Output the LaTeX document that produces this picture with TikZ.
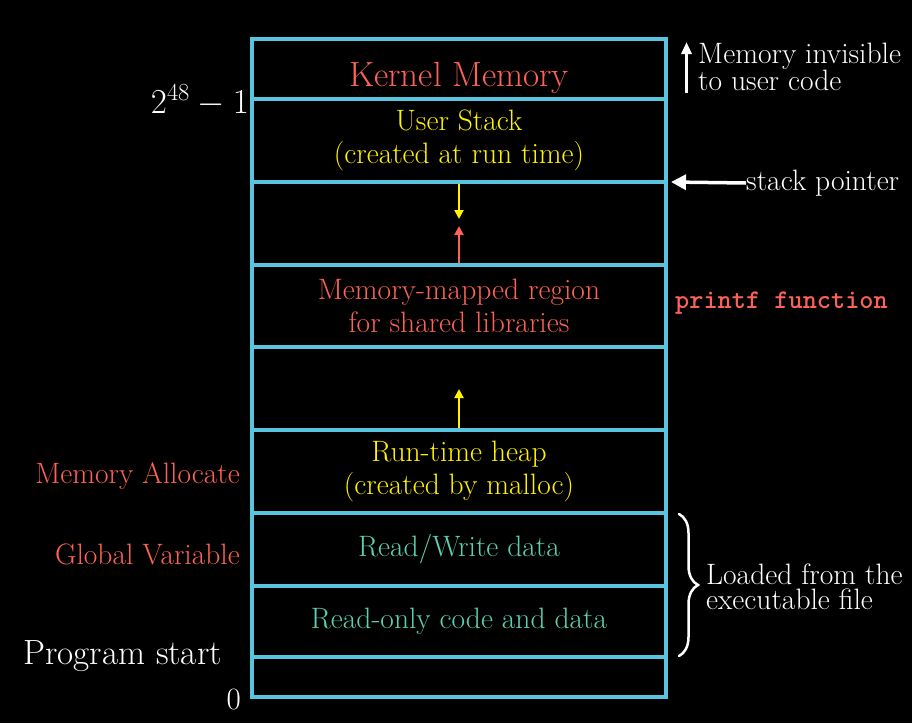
\RequirePackage{fix-cm}
\documentclass[tikz,border=0pt]{standalone}
\usetikzlibrary{arrows.meta,decorations.pathreplacing}
\definecolor{memblue}{HTML}{58C4DD}
\definecolor{memred}{HTML}{FC6255}
\definecolor{memyellow}{HTML}{FFF200}
\definecolor{memteal}{HTML}{5CD0B3}
\begin{document}
\begin{tikzpicture}[x=1pt,y=-1pt]
		\newcommand{\centx}{459}
		\newcommand{\boxw}{414pt} % width of the memory column
		\newcommand{\lw}{4pt} % line width of the column

		% set the styles of the regions and labels
		\tikzset{
			region/.style={
				draw=memblue,
				line width=\lw,
				minimum width=\boxw,
				inner sep=0pt,
				align=center,
				font=\fontsize{29.5}{33}\selectfont
				},
			sidetext/.style={
				text=white,
				align=left,
				inner sep=0pt,
				anchor=west
				},
			lefttext/.style={
				inner sep=0pt,
				anchor=east,
				font=\fontsize{29.5}{33}\selectfont
				},
			growth/.style={
				line width=2pt,
				-{Triangle[length=9pt,width=9pt]}
				}
		}

		% background
		\fill[black] (0,0) rectangle (912,723);
		\useasboundingbox (0,0) rectangle (912,723);

		% regions
		\node[region, minimum height=60pt] (kernel) at (\centx,69) {};
		\node[region, minimum height=83pt, text=memyellow] (stack) at (\centx,140.5) {User Stack\\(created at run time)};
		\node[region, minimum height=83pt] (gapA) at (\centx,223.5) {};
		\node[region, minimum height=82pt, text=memred] (mmap) at (\centx,306) {Memory-mapped region\\for shared libraries};
		\node[region, minimum height=83pt] (gapB) at (\centx,388.5) {};
		\node[region, minimum height=83pt, text=memyellow] (heap) at (\centx,471.5) {Run-time heap\\(created by malloc)};
		\node[region, minimum height=73pt, text=memteal] (rwdata) at (\centx,549.5) {Read/Write data};
		\node[region, minimum height=71pt, text=memteal] (rodata) at (\centx,621.5) {Read-only code and data};
		\node[region, minimum height=40pt] (bottom) at (\centx,677) {};
		\node[text=memred, font=\fontsize{35}{38}\selectfont] (kerneltxt) at (\centx,78) {Kernel Memory};

		% growth arrows
		\coordinate (stackend) at (\centx,219);
		\coordinate (mmapend) at (\centx,226);
		\coordinate (heapend) at (\centx,389);
		\draw[growth, memyellow] (stack.south) -- (stackend);
		\draw[growth, memred] (mmap.north) -- (mmapend);
		\draw[growth, memyellow] (heap.north) -- (heapend);

		% addresses and labels on the left
		\node[lefttext, text=white, font=\fontsize{35}{38}\selectfont] (topaddr) at (249,100.5) {$2^{48}-1$};
		\node[lefttext, text=white, font=\fontsize{31}{34}\selectfont] (zeroaddr) at (241,699) {$0$};
		\node[lefttext, text=memred] (malloc) at (240,476) {Memory Allocate};
		\node[lefttext, text=memred] (globals) at (240,554) {Global Variable};
		\node[lefttext, text=white, font=\fontsize{35}{38}\selectfont] (start) at (222,656) {Program start};

		% labels on the right
		\node[sidetext, font=\fontsize{29.5}{22}\selectfont] (invisible) at (698,67) {Memory invisible\\to user code};
		\coordinate (invisbot) at (686.5,93);
		\coordinate (invistop) at (686.5,42);
		\draw[white, line width=3pt, -{Triangle[length=12pt,width=10pt]}] (invisbot) -- (invistop);

		\node[sidetext, font=\fontsize{29.5}{32}\selectfont] (sp) at (746,183) {stack pointer};
		\coordinate (sptip) at (671,182);
		\draw[white, line width=3.5pt, -{Triangle[length=15pt,width=15pt]}] (sp.west) -- (sptip);

		\node[sidetext, text=memred, font=\fontsize{27}{30}\selectfont\ttfamily\bfseries] (printf) at (675,303) {printf function};

		% brace over the loaded regions
		\coordinate (bracetop) at (679,514);
		\coordinate (bracebot) at (679,656);
		\draw[white, line width=2.5pt, line cap=round, decorate, decoration={brace, amplitude=19pt, aspect=0.5}] (bracetop) -- (bracebot);
		\node[sidetext, font=\fontsize{29.5}{25}\selectfont] (loaded) at (706,587) {Loaded from the\\executable file};
\end{tikzpicture}
\end{document}
